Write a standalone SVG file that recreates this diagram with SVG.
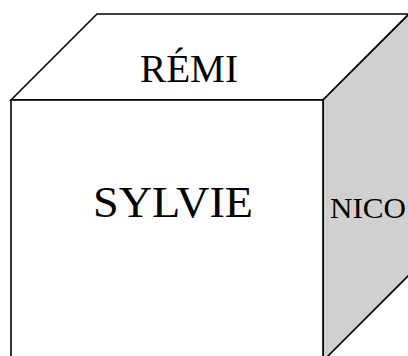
<svg xmlns="http://www.w3.org/2000/svg" width="408" height="356" viewBox="0 0 408 356">
<style>
.face{stroke:#000;stroke-width:1.6;stroke-linejoin:miter}
.lbl{font-family:"Liberation Serif","Times New Roman",serif;fill:#000}
</style>
<rect width="408" height="356" fill="#fff"/>
<g id="top">
<polygon class="face" fill="#fff" points="11,100 97,14 409,14 323,100"/>
<text class="lbl" x="140" y="82" font-size="39" textLength="98" lengthAdjust="spacingAndGlyphs">RÉMI</text>
</g>
<g id="right">
<polygon class="face" fill="#d0d0d0" points="323,100 409,14 409,275 323,361"/>
<text class="lbl" x="330" y="218" font-size="30" textLength="76" lengthAdjust="spacingAndGlyphs">NICO</text>
</g>
<g id="front">
<rect class="face" fill="#fff" x="11" y="100" width="312" height="261"/>
<text class="lbl" x="93" y="217" font-size="44" textLength="160" lengthAdjust="spacingAndGlyphs">SYLVIE</text>
</g>
</svg>
